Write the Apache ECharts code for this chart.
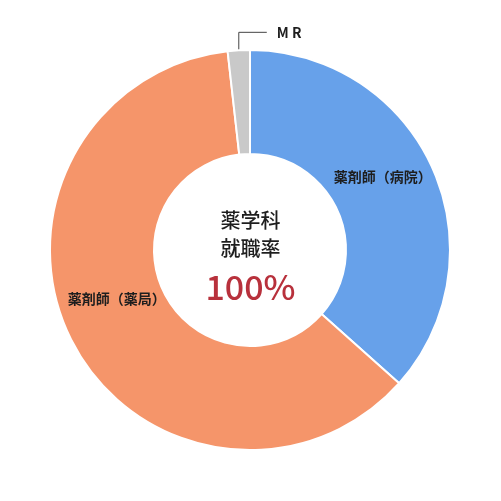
<!DOCTYPE html>
<html><head><meta charset="utf-8">
<script src="https://cdn.jsdelivr.net/npm/echarts@6/dist/echarts.min.js"></script>
<style>html,body{margin:0;padding:0;background:#fff}#c{width:501px;height:501px}</style>
</head><body><div id="c"></div>
<script>
const categories = ['薬剤師（病院）', '薬剤師（薬局）', 'M R'];
const values = [41, 69, 2];
const colors = ['#67a1ea', '#f5956a', '#c9c9c9'];
const centerLines = ['薬学科', '就職率'];
const centerValue = '100%';

const chart = echarts.init(document.getElementById('c'), null, {renderer: 'canvas'});
const FONT = '"Noto Sans CJK JP", "Noto Sans", sans-serif';
const offsets = [[-5, -12], [1, -21], [0, 0]];

chart.setOption({
  animation: false,
  series: [{
    type: 'pie',
    center: [250, 250],
    radius: [96, 200],
    startAngle: 90,
    clockwise: true,
    avoidLabelOverlap: false,
    itemStyle: {borderColor: '#fff', borderWidth: 2},
    label: {
      position: 'inside',
      color: '#1e1e1e',
      fontSize: 14,
      fontWeight: 'bold',
      fontFamily: FONT,
      formatter: '{b}'
    },
    labelLine: {show: false},
    labelLayout: function (p) {
      if (p.dataIndex === 2) {
        const a = p.labelLinePoints ? p.labelLinePoints[0] : [238.5, 50];
        const yTop = a[1] - 18;
        return {
          x: a[0] + 38, y: yTop, align: 'left', verticalAlign: 'middle',
          labelLinePoints: [a, [a[0], yTop], [a[0] + 28, yTop]]
        };
      }
      return {dx: offsets[p.dataIndex][0], dy: offsets[p.dataIndex][1]};
    },
    data: categories.map((name, i) => {
      const d = {name: name, value: values[i], itemStyle: {color: colors[i]}};
      if (i === 2) {
        d.label = {position: 'outside', fontSize: 14, color: '#1e1e1e'};
        d.labelLine = {show: true, length: 18, length2: 28, lineStyle: {color: '#444', width: 1}};
      }
      return d;
    })
  }],
  graphic: [
    {type: 'text', left: 'center', top: 210, style: {text: centerLines[0], font: '500 20px ' + FONT, fill: '#1e1e1e', textAlign: 'center'}},
    {type: 'text', left: 'center', top: 238, style: {text: centerLines[1], font: '500 20px ' + FONT, fill: '#1e1e1e', textAlign: 'center'}},
    {type: 'text', left: 'center', top: 270, style: {text: centerValue, font: '500 34px ' + FONT, fill: '#b8313c', textAlign: 'center'}}
  ]
});
</script></body></html>
